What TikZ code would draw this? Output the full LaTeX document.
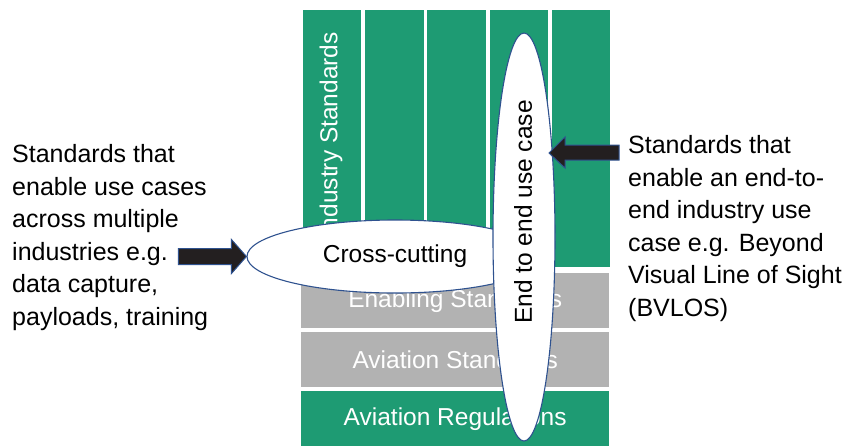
\documentclass[tikz,border=0pt]{standalone}
\usepackage{fontspec}
\setmainfont{Liberation Sans}
\usetikzlibrary{shapes.geometric}
\definecolor{stdgreen}{RGB}{30,155,115}
\definecolor{stdgray}{RGB}{178,178,178}
\definecolor{edgeblue}{RGB}{47,82,143}
\definecolor{arrowblack}{RGB}{35,31,32}
\begin{document}
\begin{tikzpicture}[x=1pt,y=-1pt,
  column/.style={fill=stdgreen,draw=none},
  layer/.style={draw=none,inner sep=0pt,minimum height=55pt,minimum width=308pt,anchor=north west,
    text=white,font=\fontsize{24.5}{29}\selectfont},
  scopeoval/.style={ellipse,draw=edgeblue,line width=1.1pt,fill=white,inner sep=0pt,
    font=\fontsize{24.5}{29}\selectfont},
  sidetext/.style={align=left,inner sep=0pt,anchor=west,font=\fontsize{25}{32.5}\selectfont},
  blockarrow/.style={fill=arrowblack,draw=edgeblue,line width=1pt,line join=miter}]
\useasboundingbox (0,0) rectangle (854,445);
% industry columns
\foreach \i in {0,...,4}{
  \fill[column] ({303+\i*62.2},10) rectangle ({361.4+\i*62.2},267);
}
\node[rotate=90,text=white,font=\fontsize{24.5}{29}\selectfont] (industry) at (331,135) {Industry Standards};
% horizontal layers
\node[layer,fill=stdgray] (enabling) at (301,273) {Enabling Standards};
\node[layer,fill=stdgray] (avstd) at (301,332) {Aviation Standards};
\node[layer,fill=stdgreen,minimum height=56pt] (avreg) at (301,391) {Aviation Regulations};
% scope ovals
\node[scopeoval,minimum width=296pt,minimum height=73pt] (cross) at (395,256.5) {Cross-cutting};
\node[scopeoval,minimum width=62pt,minimum height=408pt] (e2e) at (524,237) {};
\node[rotate=90,font=\fontsize{24.5}{29}\selectfont] (e2elabel) at (523,212) {End to end use case};
% side descriptions
\node[sidetext] (lefttext) at (12,237.5) {Standards that\\enable use cases\\across multiple\\industries e.g.\\data capture,\\payloads, training};
\node[sidetext] (righttext) at (628,228.5) {Standards that\\enable an end-to-\\end industry use\\case e.g. Beyond\\Visual Line of Sight\\(BVLOS)};
% block arrows pointing into the ovals
\draw[blockarrow] (cross.west) -- ++(-15,-17) -- ++(0,9) -- ++(-53,0) -- ++(0,16) -- ++(53,0) -- ++(0,9) -- cycle;
\coordinate (e2etip) at (549,153);
\draw[blockarrow] (e2etip) -- ++(16,-16) -- ++(0,8) -- ++(54,0) -- ++(0,15) -- ++(-54,0) -- ++(0,8) -- cycle;
\end{tikzpicture}
\end{document}
